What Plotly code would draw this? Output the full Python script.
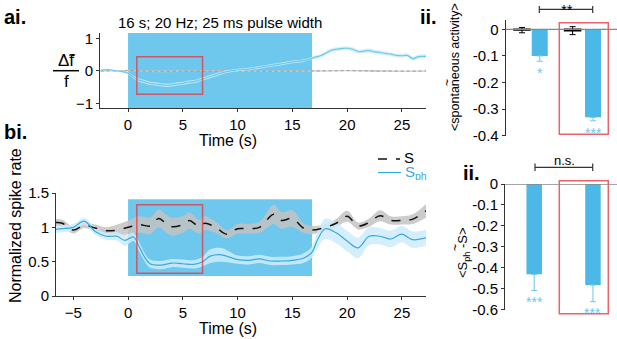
import plotly.graph_objects as go

# ---------------- data ----------------
# panel ai: dF/f trace (time in s)
t_ai = [-2.5, -2, -1.5, -1, -0.5, 0, 0.5, 1, 1.5, 2, 2.5, 3, 3.5, 4, 4.5, 5, 5.5, 6, 6.5, 7, 7.5, 8,
        9, 10, 11, 12, 13, 14, 15, 16, 16.8, 17, 17.5, 18, 18.5, 19, 19.5, 20, 20.5, 21, 21.5, 22,
        22.5, 23, 23.5, 24, 24.5, 25, 25.5, 26, 26.5, 27, 27.2]
dff_mean = [0.02, 0.04, 0.03, 0.0, -0.02, -0.07, -0.19, -0.28, -0.33, -0.38, -0.40, -0.43, -0.44,
            -0.43, -0.40, -0.38, -0.34, -0.33, -0.28, -0.23, -0.17, -0.12, -0.02, 0.03, 0.06, 0.11,
            0.17, 0.22, 0.28, 0.32, 0.39, 0.42, 0.46, 0.54, 0.63, 0.67, 0.69, 0.70, 0.67, 0.60, 0.61,
            0.63, 0.59, 0.57, 0.54, 0.52, 0.48, 0.47, 0.48, 0.38, 0.44, 0.45, 0.45]
dff_err = [0.02, 0.02, 0.02, 0.02, 0.03, 0.03, 0.04, 0.05, 0.05, 0.05, 0.05, 0.05, 0.05, 0.05, 0.05,
           0.05, 0.05, 0.05, 0.05, 0.05, 0.05, 0.05, 0.04, 0.04, 0.04, 0.04, 0.04, 0.04, 0.04, 0.04,
           0.04, 0.05, 0.05, 0.06, 0.06, 0.06, 0.06, 0.06, 0.06, 0.06, 0.06, 0.06, 0.06, 0.06, 0.06,
           0.06, 0.06, 0.06, 0.06, 0.06, 0.06, 0.06, 0.06]
t_ctrl = [-2.5, 0, 2.5, 5, 7.5, 10, 12.5, 15, 17.5, 20, 22.5, 25, 27.2]
dff_ctrl = [0.0, 0.01, -0.01, 0.0, 0.01, 0.0, -0.01, 0.0, 0.0, 0.01, 0.0, -0.01, 0.0]
dff_ctrl_err = [0.02, 0.02, 0.03, 0.02, 0.02, 0.03, 0.02, 0.03, 0.02, 0.02, 0.03, 0.02, 0.02]

# panel bi: normalized spike rate, S (control) and S_ph (stimulated)
t_s = [-6.6, -6, -5, -4, -3, -2, -1, 0, 1, 2, 2.8, 3.5, 4, 5, 5.6, 6.5, 7, 8, 9, 10, 11, 12, 13.3,
       14, 15, 16, 16.8, 18, 19, 20, 21, 22, 23, 24, 25, 26, 27.2]
s_mean = [1.07, 1.06, 0.96, 1.03, 0.99, 0.95, 0.96, 1.0, 1.04, 1.02, 1.13, 1.05, 1.01, 1.04, 1.10,
          1.01, 1.06, 1.0, 0.90, 0.98, 0.98, 1.0, 1.19, 1.10, 1.13, 0.99, 0.96, 1.0, 1.06, 1.16,
          1.02, 1.07, 1.17, 1.10, 1.10, 1.12, 1.24]
s_err = [0.05, 0.05, 0.05, 0.04, 0.05, 0.05, 0.08, 0.10, 0.12, 0.12, 0.13, 0.13, 0.13, 0.12, 0.12,
         0.10, 0.10, 0.08, 0.06, 0.07, 0.07, 0.08, 0.14, 0.12, 0.12, 0.07, 0.06, 0.05, 0.06, 0.08,
         0.05, 0.06, 0.08, 0.06, 0.06, 0.07, 0.10]
t_ph = [-6.6, -6, -5, -4, -3, -2, -1, -0.3, 0.5, 1, 1.5, 2, 3, 4, 5, 6, 6.8, 7.5, 8.5, 10, 11, 12,
        13, 14, 15, 16, 16.8, 17.3, 18, 19, 20, 21, 22, 23, 24, 25, 26, 27.2]
sph_mean = [0.97, 0.98, 1.0, 1.09, 0.94, 0.87, 0.87, 0.81, 0.86, 0.72, 0.57, 0.47, 0.45, 0.48, 0.47,
            0.46, 0.50, 0.58, 0.60, 0.53, 0.52, 0.54, 0.51, 0.51, 0.52, 0.55, 0.64, 0.82, 0.98, 0.92,
            0.80, 0.70, 0.87, 0.87, 0.83, 0.90, 0.82, 0.85]
sph_err = [0.05, 0.05, 0.05, 0.05, 0.05, 0.05, 0.06, 0.08, 0.06, 0.07, 0.06, 0.06, 0.06, 0.06, 0.06,
           0.06, 0.07, 0.10, 0.10, 0.06, 0.06, 0.06, 0.06, 0.06, 0.06, 0.07, 0.08, 0.12, 0.15, 0.15,
           0.15, 0.15, 0.13, 0.12, 0.12, 0.12, 0.12, 0.12]

stim_on, stim_off = 0, 16.8
win_on, win_off = 0.8, 6.8

# panel ii (top): <spontaneous activity>
spont_ctrl = [-0.003, -0.005]
spont_ctrl_err = [0.01, 0.015]
spont_stim = [-0.10, -0.331]
spont_stim_err = [0.02, 0.013]
spont_sig = ['*', '***']
spont_pair_sig = '**'

# panel ii (bottom): <S_ph - S>
diff_vals = [-0.432, -0.483]
diff_err = [0.077, 0.08]
diff_sig = ['***', '***']
diff_pair_sig = 'n.s.'

# ---------------- styles ----------------
W, H = 617, 339
FONT = 'Liberation Sans, Arial, sans-serif'
STIM = 'rgb(110,200,237)'
LINE_BLUE = 'rgb(58,168,224)'
BAND_BLUE = 'rgba(205,236,250,0.85)'
BAR_BLUE = 'rgb(76,184,232)'
STAR_BLUE = 'rgb(110,198,238)'
RED = 'rgba(226,60,70,0.8)'
AX = '#333333'


def px(x):
    return x / W


def py(y):
    return 1 - y / H


fig = go.Figure()


def band(x, m, e, color, xa, ya):
    lo = [a - b for a, b in zip(m, e)]
    hi = [a + b for a, b in zip(m, e)]
    fig.add_trace(go.Scatter(x=x, y=lo, mode='lines', line=dict(width=0, shape='spline'),
                             xaxis=xa, yaxis=ya, showlegend=False, hoverinfo='skip'))
    fig.add_trace(go.Scatter(x=x, y=hi, mode='lines', line=dict(width=0, shape='spline'),
                             fill='tonexty', fillcolor=color, xaxis=xa, yaxis=ya,
                             showlegend=False, hoverinfo='skip'))


# ai
band(t_ctrl, dff_ctrl, dff_ctrl_err, 'rgba(200,200,200,0.8)', 'x', 'y')
fig.add_trace(go.Scatter(x=t_ctrl, y=dff_ctrl, mode='lines', line=dict(color='#999999', width=1, dash='dot'),
                         xaxis='x', yaxis='y', showlegend=False))
band(t_ai, dff_mean, dff_err, BAND_BLUE, 'x', 'y')
fig.add_trace(go.Scatter(x=t_ai, y=dff_mean, mode='lines', line=dict(color=STIM, width=1.2, shape='spline'),
                         xaxis='x', yaxis='y', showlegend=False))

# bi
band(t_s, s_mean, s_err, 'rgba(195,195,195,0.85)', 'x2', 'y2')
band(t_ph, sph_mean, sph_err, BAND_BLUE, 'x2', 'y2')
fig.add_trace(go.Scatter(x=t_s, y=s_mean, mode='lines', name='S', showlegend=False,
                         line=dict(color='#111111', width=1.5, dash='dash', shape='spline'),
                         xaxis='x2', yaxis='y2'))
fig.add_trace(go.Scatter(x=t_ph, y=sph_mean, mode='lines', name='S_ph', showlegend=False,
                         line=dict(color=LINE_BLUE, width=1.2, shape='spline'),
                         xaxis='x2', yaxis='y2'))

# axis geometry of the bar panels
y3_dom, y3_rng = [py(135.7), py(20)], [-0.4, 0.035]
y4_dom, y4_rng = [py(309.5), py(184)], [-0.6, 0.0]


def to_paper(v, dom, rng):
    return dom[0] + (v - rng[0]) / (rng[1] - rng[0]) * (dom[1] - dom[0])


# top-right bars
ctrl_pos = [1, 3.85]
stim_pos = [2, 5]
fig.add_trace(go.Bar(x=ctrl_pos, y=spont_ctrl, width=0.9, marker=dict(color='black', line=dict(color='black', width=1.5)),
                     error_y=dict(type='data', array=spont_ctrl_err, color='black', thickness=1, width=3),
                     xaxis='x3', yaxis='y3', showlegend=False))
fig.add_trace(go.Bar(x=stim_pos, y=spont_stim, width=0.9, marker=dict(color=BAR_BLUE, line=dict(width=0)),
                     error_y=dict(type='data', symmetric=False, array=[0, 0], arrayminus=spont_stim_err,
                                  color=STAR_BLUE, thickness=1, width=3),
                     xaxis='x3', yaxis='y3', showlegend=False))
for xp, v, e, s in zip(stim_pos, spont_stim, spont_stim_err, spont_sig):
    fig.add_annotation(x=xp, y=to_paper(v - e - 0.045, y3_dom, y3_rng), text=s, showarrow=False,
                       xref='x3', yref='paper', yanchor='middle',
                       font=dict(family=FONT, size=14, color=STAR_BLUE))

# bottom-right bars
diff_pos = [1.7, 5]
fig.add_trace(go.Bar(x=diff_pos, y=diff_vals, width=0.87, marker=dict(color=BAR_BLUE, line=dict(width=0)),
                     error_y=dict(type='data', symmetric=False, array=[0, 0], arrayminus=diff_err,
                                  color=STAR_BLUE, thickness=1, width=3),
                     xaxis='x4', yaxis='y4', showlegend=False))
for xp, v, e, s in zip(diff_pos, diff_vals, diff_err, diff_sig):
    fig.add_annotation(x=xp, y=to_paper(v - e - 0.055, y4_dom, y4_rng), text=s, showarrow=False,
                       xref='x4', yref='paper', yanchor='middle',
                       font=dict(family=FONT, size=14, color=STAR_BLUE))

tickfont = dict(family=FONT, size=15, color='black')
common = dict(showline=True, linecolor=AX, linewidth=1, ticks='outside', ticklen=3, tickcolor=AX,
              showgrid=False, zeroline=False, tickfont=tickfont, automargin=False)
barfont = dict(family=FONT, size=15, color='black')

fig.update_layout(
    width=W, height=H, margin=dict(l=0, r=0, t=0, b=0, autoexpand=False),
    paper_bgcolor='white', plot_bgcolor='rgba(0,0,0,0)',
    font=dict(family=FONT, color='black'),
    barmode='overlay', showlegend=False,
    xaxis=dict(domain=[px(100), px(426)], range=[-2.56, 27.2], tickvals=[0, 5, 10, 15, 20, 25],
               anchor='y', **common),
    yaxis=dict(domain=[py(108), py(33)], range=[-1.14, 1.17], tickvals=[-1, 0, 1], anchor='x', **common),
    xaxis2=dict(domain=[px(56), px(426)], range=[-6.58, 27.2], tickvals=[-5, 0, 5, 10, 15, 20, 25],
                anchor='y2', **common),
    yaxis2=dict(domain=[py(296), py(193)], range=[0, 1.5], tickvals=[0, 0.5, 1, 1.5],
                ticktext=['0', '0.5', '1', '1.5'], anchor='x2', **common),
    xaxis3=dict(domain=[px(505.7), 1], range=[0.082, 6.35], visible=False, anchor='y3'),
    yaxis3=dict(domain=y3_dom, range=y3_rng, tickvals=[0, -0.1, -0.2, -0.3, -0.4],
                ticktext=['0', '-0.1', '-0.2', '-0.3', '-0.4'], anchor='x3',
                **{**common, 'tickfont': barfont}),
    xaxis4=dict(domain=[px(505), 1], range=[0.06, 6.35], visible=False, anchor='y4'),
    yaxis4=dict(domain=y4_dom, range=y4_rng,
                tickvals=[0, -0.1, -0.2, -0.3, -0.4, -0.5, -0.6],
                ticktext=['0', '-0.1', '-0.2', '-0.3', '-0.4', '-0.5', '-0.6'], anchor='x4',
                **{**common, 'tickfont': barfont}),
)

shapes = []
# stimulation rectangles
shapes.append(dict(type='rect', xref='x', yref='y', x0=stim_on, x1=stim_off, y0=-1.14, y1=1.17,
                   fillcolor=STIM, line=dict(width=0), layer='below'))
shapes.append(dict(type='rect', xref='x2', yref='y2', x0=stim_on, x1=stim_off, y0=0.29, y1=1.41,
                   fillcolor=STIM, line=dict(width=0), layer='below'))
# analysis windows
shapes.append(dict(type='rect', xref='x', yref='y', x0=win_on, x1=win_off, y0=-0.72, y1=0.44,
                   line=dict(color=RED, width=1.5)))
shapes.append(dict(type='rect', xref='x2', yref='y2', x0=win_on, x1=win_off, y0=0.33, y1=1.33,
                   line=dict(color=RED, width=1.5)))
shapes.append(dict(type='rect', xref='paper', yref='paper', x0=px(559.3), x1=px(608.3), y0=py(134.3), y1=py(22.7),
                   line=dict(color=RED, width=1.5)))
shapes.append(dict(type='rect', xref='paper', yref='paper', x0=px(559.3), x1=px(608.3), y0=py(313.7), y1=py(180.7),
                   line=dict(color=RED, width=1.5)))
# zero lines of bar charts
shapes.append(dict(type='line', xref='paper', yref='y3', x0=px(505.7), x1=1, y0=0, y1=0,
                   line=dict(color='#888888', width=1.2)))
shapes.append(dict(type='line', xref='paper', yref='y4', x0=px(505), x1=1, y0=0, y1=0,
                   line=dict(color='#888888', width=1.5)))
# significance brackets
for (xa, xb, yb, y0, y1) in [(539.3, 592.7, 9.3, 6, 13), (535, 592.7, 167.3, 163.5, 171)]:
    shapes.append(dict(type='line', xref='paper', yref='paper', x0=px(xa), x1=px(xb), y0=py(yb), y1=py(yb),
                       line=dict(color='#333333', width=1.2)))
    for xx in (xa, xb):
        shapes.append(dict(type='line', xref='paper', yref='paper', x0=px(xx), x1=px(xx), y0=py(y1), y1=py(y0),
                           line=dict(color='#333333', width=1.2)))
# fraction bar of dF/f label
shapes.append(dict(type='line', xref='paper', yref='paper', x0=px(53), x1=px(79), y0=py(70.7), y1=py(70.7),
                   line=dict(color='black', width=1.5)))
# manual legend samples
shapes.append(dict(type='line', xref='paper', yref='paper', x0=px(378), x1=px(400), y0=py(159), y1=py(159),
                   line=dict(color='#111111', width=1.5, dash='dash')))
shapes.append(dict(type='line', xref='paper', yref='paper', x0=px(378), x1=px(401), y0=py(172.5), y1=py(172.5),
                   line=dict(color=LINE_BLUE, width=1.2)))
fig.update_layout(shapes=shapes)


def ann(x, y, text, size, bold=False, angle=0, color='black', xanchor='center', height=None):
    fig.add_annotation(x=px(x), y=py(y), xref='paper', yref='paper', text=f'<b>{text}</b>' if bold else text,
                       showarrow=False, textangle=angle, xanchor=xanchor, yanchor='middle', height=height,
                       font=dict(family=FONT, size=size, color=color))


ann(220, 23, '16 s; 20 Hz; 25 ms pulse width', 15)
ann(228, 140, 'Time (s)', 16)
ann(228, 328.5, 'Time (s)', 16)
ann(2, 17, 'ai.', 20, bold=True, xanchor='left')
ann(2, 132, 'bi.', 20, bold=True, xanchor='left')
ann(418, 17, 'ii.', 20, bold=True, xanchor='left')
ann(461, 173, 'ii.', 20, bold=True, xanchor='left')
ann(66, 60, 'Δ\u0303f', 17)
ann(66, 82, 'f', 17)
ann(15, 226, 'Normalized spike rate', 16, angle=-90)
ann(455, 67, '&lt;spontaneous activity&gt;', 12.5, angle=-90)
ann(447, 83, '~', 12, angle=-90)
ann(463, 252, '&lt;S<sub>ph</sub> -S&gt;', 13, angle=-90)
ann(455, 248, '~', 12, angle=-90)
ann(566.7, 9, spont_pair_sig, 15)
ann(564, 160, diff_pair_sig, 13)
ann(402, 157, 'S', 15, xanchor='left', height=14)
ann(403, 172, 'S<sub>ph</sub>', 15, color=LINE_BLUE, xanchor='left', height=15)

fig.write_html('out.html', post_script="document.body.style.margin='0px';",
               config={'displayModeBar': False})
